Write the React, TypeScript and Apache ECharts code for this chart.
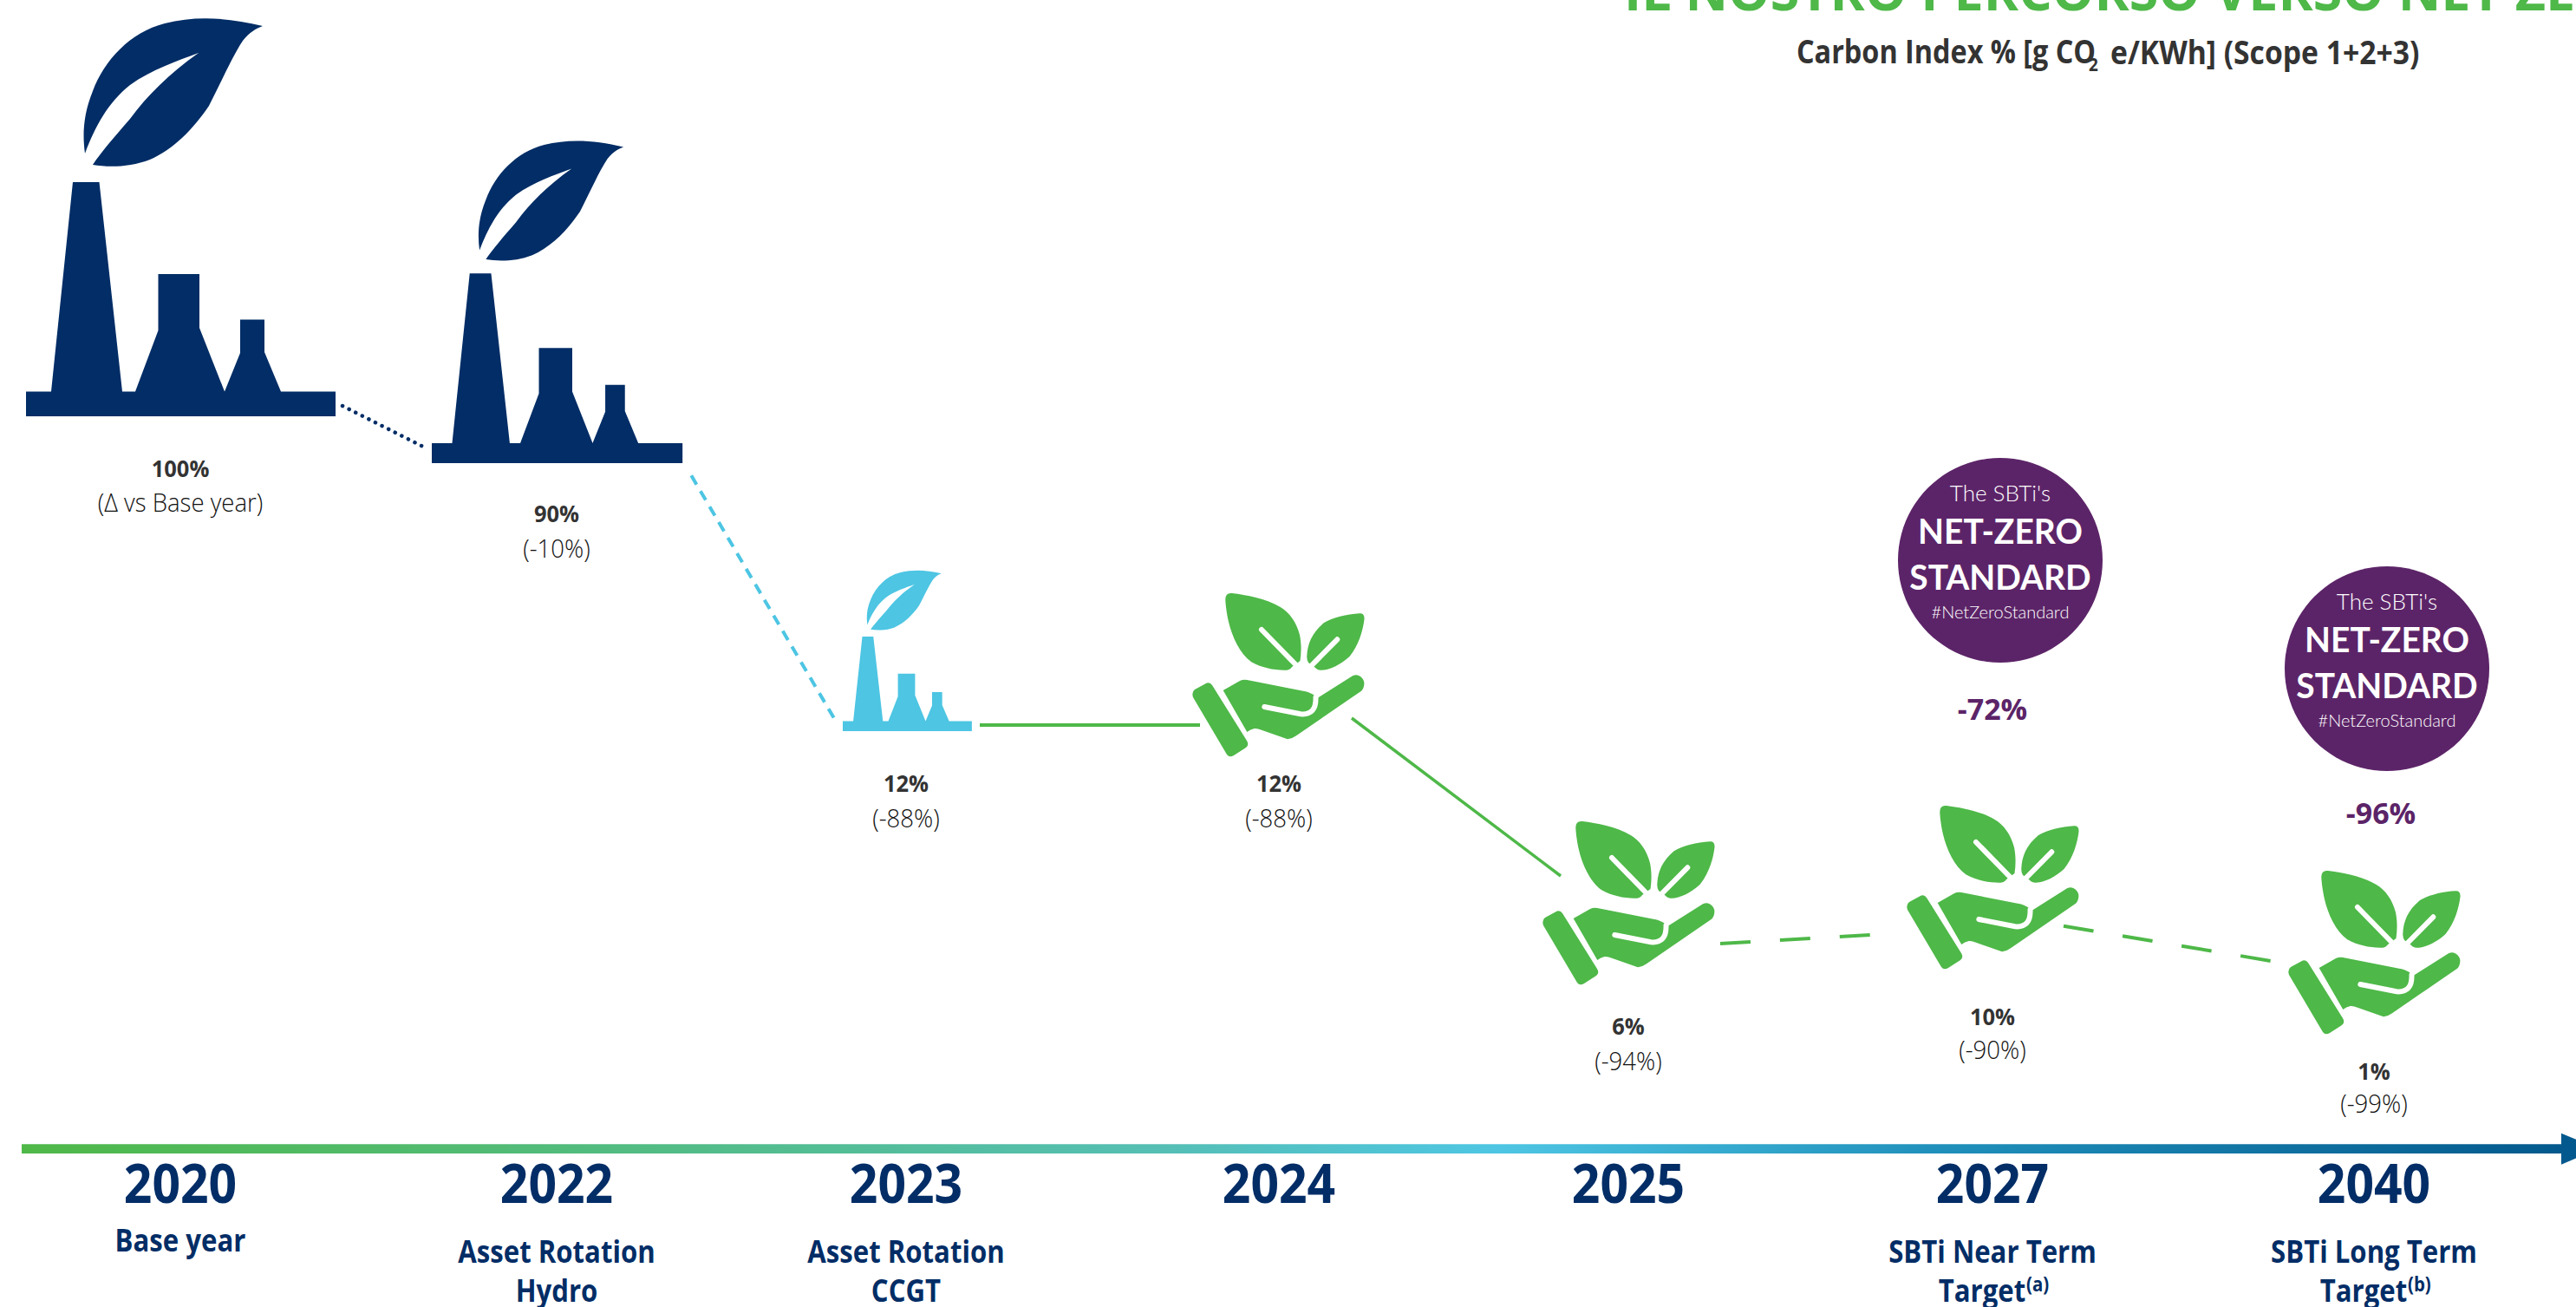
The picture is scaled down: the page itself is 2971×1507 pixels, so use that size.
import React, { useEffect, useRef } from "react";
import * as echarts from "echarts";

const years = ["2020", "2022", "2023", "2024", "2025", "2027", "2040"];
const stageLines = [["Base year"], ["Asset Rotation", "Hydro"], ["Asset Rotation", "CCGT"], [], [], ["SBTi Near Term", "Target"], ["SBTi Long Term", "Target"]];
const footnoteMarks = ["", "", "", "", "", "(a)", "(b)"];
const indexLabels = ["100%", "90%", "12%", "12%", "6%", "10%", "1%"];
const deltaLabels = ["(Δ vs Base year)", "(-10%)", "(-88%)", "(-88%)", "(-94%)", "(-90%)", "(-99%)"];
const sbtiLabels = ["-72%", "-96%"];
const badgeLines = ["The SBTi's", "NET-ZERO", "STANDARD", "#NetZeroStandard"];
const titleText = "IL NOSTRO PERCORSO VERSO NET ZERO";
const subtitleParts = ["Carbon Index % [g CO", "2", "e/KWh] (Scope 1+2+3)"];

// Picture-space layout, in units of the hidden axes
const yearX = [208, 642, 1045, 1475, 1878, 2298, 2738];
const indexY = [540, 592, 903, 903, 1183, 1172, 1235];
const deltaY = [579, 632, 943, 943, 1223, 1210, 1272];
const factoryAnchors = [[30, 480, 1, 1, "#022D66"], [498, 534, 0.81, 0.81, "#022D66"], [972, 843, 0.417, 0.404, "#4DC5E3"]];
const handAnchors = [[1375, 682], [1779, 945], [2199, 927], [2639, 1002]];
const badgeCentres = [[2307, 646], [2753, 771]];
const sbtiAnchors = [[2298, 817], [2746, 937]];
const connectors = [
  { from: [395, 468], to: [488, 515], color: "#022D66", width: 4.5, dash: [0.1, 8.4], cap: "round" },
  { from: [797.3, 548.3], to: [961.7, 827.7], color: "#4DC5E3", width: 4, dash: [12, 8.8], cap: "butt" },
  { from: [1130, 836], to: [1384, 836], color: "#4EB848", width: 4, dash: "solid", cap: "butt" },
  { from: [1559, 828], to: [1800, 1010], color: "#4EB848", width: 3.5, dash: "solid", cap: "butt" },
  { from: [1984, 1088], to: [2158, 1078], color: "#4EB848", width: 4, dash: [35, 34], cap: "butt" },
  { from: [2380, 1067.7], to: [2620.7, 1108.3], color: "#4EB848", width: 4, dash: [35, 34], cap: "butt" },
];
const timeline = [25, 2954, 1324.7];

const factoryPath =
  "M30 480 L30 451.5 L59 451.5 L84 210 L114.5 210 L141 451.5 L156 451.5 L182.5 381 L182.5 316 L230 316 L230 378 L259 451.5 L277 407 L277 368.5 L305 368.5 L305 406 L324 451.5 L387 451.5 L387 480 Z " +
  "M303 30 C262 20 225 18 190 27 C150 37 120 70 107 105 C96 132 95 155 98 177 C110 145 125 118 150 98 C175 80 205 70 229 61 C195 85 170 110 150 137 C130 160 117 175 107 190 C125 193 150 193 173 184 C200 172 222 150 241 122 C255 95 268 65 280 47 C288 37 295 33 303 30 Z";
const handPath =
  "M3 113 L15 106.5 Q20 103.5 23 108 L63 172 Q66 177 62 180 L48 189 Q43 192 40 188 L1 122 Q-1 116 3 113 Z " +
  "M35.7 114 L55 103 Q59 101 63.3 102 L128 114.7 C136 116 141 119 144.3 123 L185 97.3 Q190 95 194 98 Q199 102 198.3 107 Q198 112 195 114.7 L120 166.3 Q115 170 110 170.3 L80 159.7 Q75 157.5 71.7 158 Q67 159 63.3 162 Z " +
  "M38.3 9 Q38.5 1 46 2 C62 4 85 8 101.7 18 C112 24 120 35 124 50 C126 60 126 70 124.5 80 L115 87 Q112 91 108 90.7 C95 91 80 88 68.3 81.3 C55 72 46 52 42 35 C40 26 38.5 16 38.3 9 Z " +
  "M193.3 25.3 Q199 25 198.5 32 C197 45 192 62 181.7 74.7 C172 84 158 91 148.3 90.7 Q144 90.5 141 87 L134 82 Q132 78 132.3 74.7 C133 60 138 48 151.7 36.3 C162 30 178 26 193.3 25.3 Z";
const handVeins = "M80 44 L122 87 M167.3 55.3 L136 87 M83.3 133 L125 141.3 Q143.3 143 142.5 122";

echarts.graphic.registerShape("factoryIcon", echarts.graphic.extendPath(factoryPath, {}));
echarts.graphic.registerShape("handIcon", echarts.graphic.extendPath(handPath, {}));
echarts.graphic.registerShape("handVeins", echarts.graphic.extendPath(handVeins, {}));

const NAVY = "#022D66";
const INK = "#333333";
const PURPLE = "#5C2468";
const GREEN = "#4EB848";
type T = { x: number; y: number; s: string; size: number; w: number; c: string; sx?: number; f?: string; a?: string };
const texts: T[] = [];
const OS = "'Open Sans'";

texts.push({ x: 1873, y: -12, s: titleText, size: 61, w: 700, c: GREEN, a: "left" });
texts.push({ x: 2072, y: 59, s: subtitleParts[0], size: 37, w: 700, c: INK, a: "left", sx: 0.875 });
texts.push({ x: 2409, y: 74, s: subtitleParts[1], size: 21, w: 700, c: INK, a: "left", sx: 0.9 });
texts.push({ x: 2434, y: 59, s: subtitleParts[2], size: 37, w: 700, c: INK, a: "left", sx: 0.91 });

years.forEach((year, i) => {
  const x = yearX[i];
  texts.push({ x, y: indexY[i], s: indexLabels[i], size: 26, w: 700, c: INK, sx: 0.98 });
  texts.push({ x, y: deltaY[i], s: deltaLabels[i], size: 29, w: 300, c: "#111111", sx: 0.95 });
  texts.push({ x, y: 1363, s: year, size: 62, w: 700, c: NAVY, sx: 0.92 });
  const lines = stageLines[i];
  lines.forEach((line, j) => {
    const y = i === 0 ? 1430 : 1443 + j * 45;
    const mark = footnoteMarks[i];
    if (mark && j === 1) {
      texts.push({ x: x - 12, y, s: line, size: 35, w: 700, c: NAVY, sx: 0.89 });
      texts.push({ x: x + 39, y: y - 8, s: mark, size: 24, w: 700, c: NAVY, a: "left", sx: 0.85 });
    } else {
      texts.push({ x, y, s: line, size: 35, w: 700, c: NAVY, sx: 0.89 });
    }
  });
});
sbtiLabels.forEach((s, i) => {
  texts.push({ x: sbtiAnchors[i][0], y: sbtiAnchors[i][1], s, size: 34, w: 700, c: PURPLE });
});
const badgeOffsets = [-78, -34, 19, 59];
const badgeSizes = [26, 41, 41, 20];
const badgeWeights = [300, 700, 700, 300];
const badgeScale = [1, 0.95, 0.95, 1];
badgeCentres.forEach(([cx, cy]) => {
  badgeLines.forEach((s, j) => {
    texts.push({ x: cx, y: cy + badgeOffsets[j], s, size: badgeSizes[j], w: badgeWeights[j], c: "#FFFFFF", f: "Lato", sx: badgeScale[j] });
  });
});

function App() {
  const ref = useRef<HTMLDivElement>(null);
  useEffect(() => {
    document.documentElement.style.overflow = "hidden";
    document.body.style.margin = "0";
    const chart = echarts.init(ref.current!, undefined, { renderer: "svg" });
    const iconSeries = (name: string, rows: any[], render: any) => ({
      type: "custom" as const,
      name,
      coordinateSystem: "cartesian2d",
      silent: true,
      clip: false,
      data: rows,
      renderItem: render,
    });
    chart.setOption({
      animation: false,
      backgroundColor: "#FFFFFF",
      grid: { left: 0, right: 0, top: 0, bottom: 0, containLabel: false },
      xAxis: { type: "value", min: 0, max: 2971, show: false },
      yAxis: { type: "value", min: 0, max: 1507, inverse: true, show: false },
      tooltip: { show: false },
      series: [
        ...connectors.map((c) => ({
          type: "line" as const,
          symbol: "none",
          silent: true,
          data: [c.from, c.to],
          lineStyle: { color: c.color, width: c.width, type: c.dash as any, cap: c.cap as any },
        })),
        iconSeries("timeline", [timeline], (_p: any, api: any) => {
          const a = api.coord([api.value(0), api.value(2)]);
          const b = api.coord([api.value(1), api.value(2)]);
          return {
            type: "group",
            children: [
              {
                type: "rect",
                shape: { x: a[0], y: a[1] - 5.4, width: b[0] - a[0], height: 10.8 },
                style: {
                  fill: new echarts.graphic.LinearGradient(0, 0, 1, 0, [
                    { offset: 0, color: "#4EB848" },
                    { offset: 0.45, color: "#55BFB5" },
                    { offset: 0.58, color: "#4EC6E3" },
                    { offset: 0.75, color: "#2091BC" },
                    { offset: 1, color: "#03598D" },
                  ]),
                },
              },
              {
                type: "polygon",
                shape: { points: [[b[0], b[1] - 18], [b[0], b[1] + 18], [b[0] + 43, b[1]]] },
                style: { fill: "#03598D" },
              },
            ],
          };
        }),
        iconSeries("factories", factoryAnchors, (_p: any, api: any) => {
          const sx = api.value(2);
          const sy = api.value(3);
          const pos = api.coord([api.value(0), api.value(1)]);
          return {
            type: "factoryIcon",
            x: pos[0] - 30 * sx,
            y: pos[1] - 480 * sy,
            scaleX: sx,
            scaleY: sy,
            style: { fill: factoryAnchors[_p.dataIndex][4] as string },
          };
        }),
        iconSeries("hands", handAnchors, (_p: any, api: any) => {
          const pos = api.coord([api.value(0), api.value(1)]);
          return {
            type: "group",
            x: pos[0],
            y: pos[1],
            children: [
              { type: "handIcon", style: { fill: GREEN } },
              { type: "handVeins", style: { fill: "none", stroke: "#FFFFFF", lineWidth: 6, lineCap: "round" } },
            ],
          };
        }),
        iconSeries("badges", badgeCentres, (_p: any, api: any) => {
          const pos = api.coord([api.value(0), api.value(1)]);
          return { type: "circle", shape: { cx: pos[0], cy: pos[1], r: 118 }, style: { fill: PURPLE } };
        }),
        iconSeries("texts", texts.map((t) => [t.x, t.y]), (p: any, api: any) => {
          const t = texts[p.dataIndex];
          const pos = api.coord([api.value(0), api.value(1)]);
          return {
            type: "text",
            x: pos[0],
            y: pos[1],
            scaleX: t.sx ?? 1,
            style: {
              text: t.s,
              fill: t.c,
              fontFamily: t.f ?? OS,
              fontSize: t.size,
              fontWeight: t.w,
              align: t.a ?? "center",
              verticalAlign: "middle",
            },
          };
        }),
      ],
    });
    return () => chart.dispose();
  }, []);
  return <div ref={ref} style={{ width: 2971, height: 1507 }} />;
}

export default App;
